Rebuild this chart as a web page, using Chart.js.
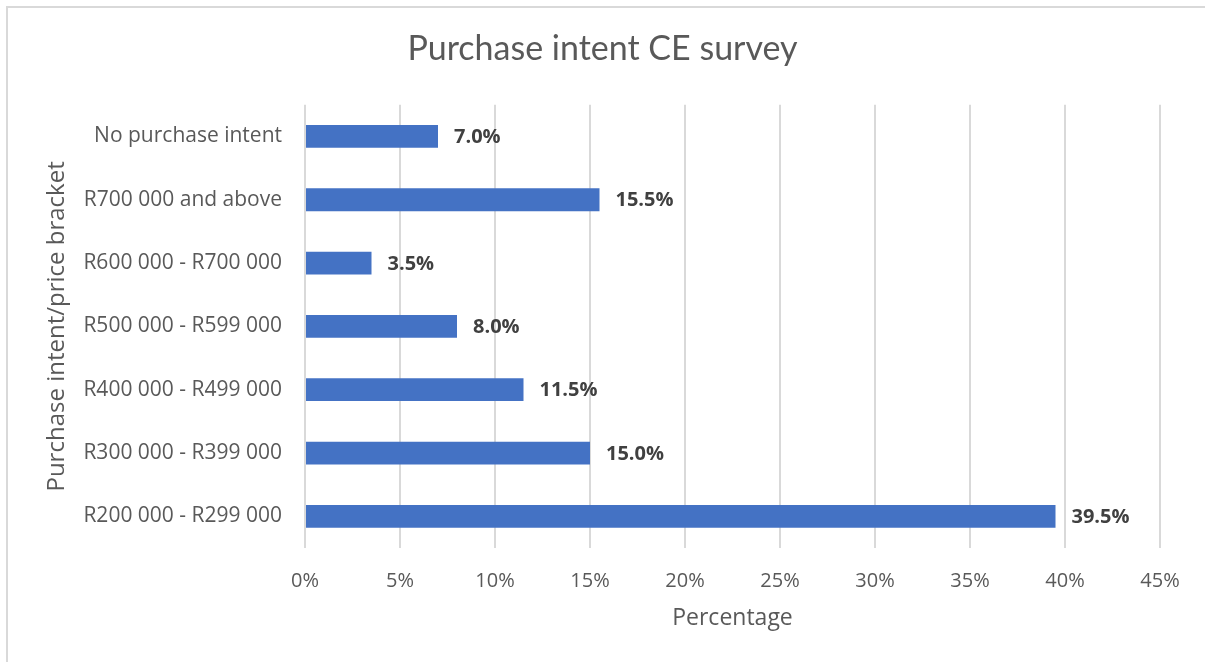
<!DOCTYPE html>
<html>
<head>
<meta charset="utf-8">
<title>Purchase intent CE survey</title>
<script src="https://cdn.jsdelivr.net/npm/chart.js@4/dist/chart.umd.min.js"></script>
<style>
    html, body { margin: 0; padding: 0; background: #fff; }
    #wrap { position: relative; width: 1205px; height: 662px; }
</style>
</head>
<body>
<div id="wrap"><canvas id="intentChart"></canvas></div>
<script>
const brackets = [
    'No purchase intent',
    'R700 000 and above',
    'R600 000 - R700 000',
    'R500 000 - R599 000',
    'R400 000 - R499 000',
    'R300 000 - R399 000',
    'R200 000 - R299 000'
];
const shares = [7.0, 15.5, 3.5, 8.0, 11.5, 15.0, 39.5];
const xTicks = [0, 5, 10, 15, 20, 25, 30, 35, 40, 45];

const FONT = '"Open Sans", sans-serif';
const TITLE_FONT = 'Lato, sans-serif';
const TEXT = '#595959';
const SIDE_PAD = 45;

// frame lines along the top and left edge of the chart box
const framePlugin = {
    id: 'frame',
    beforeDraw(chart) {
        const ctx = chart.ctx;
        ctx.save();
        ctx.strokeStyle = '#d9d9d9';
        ctx.lineWidth = 2;
        ctx.beginPath();
        ctx.moveTo(6, 7);
        ctx.lineTo(chart.width, 7);
        ctx.moveTo(7, 6);
        ctx.lineTo(7, chart.height);
        ctx.stroke();
        ctx.restore();
    }
};

// value labels at the end of each bar
const valueLabels = {
    id: 'valueLabels',
    afterDatasetsDraw(chart) {
        const ctx = chart.ctx;
        const meta = chart.getDatasetMeta(0);
        ctx.save();
        ctx.font = 'bold 20px ' + FONT;
        ctx.fillStyle = '#404040';
        ctx.textAlign = 'left';
        ctx.textBaseline = 'middle';
        meta.data.forEach((bar, i) => {
            ctx.fillText(shares[i].toFixed(1) + '%', bar.x + 16, bar.y + 1);
        });
        ctx.restore();
    }
};

new Chart(document.getElementById('intentChart'), {
    type: 'bar',
    data: {
        labels: brackets,
        datasets: [{
            data: shares,
            backgroundColor: '#4472C4',
            borderWidth: 0,
            categoryPercentage: 1,
            barPercentage: 0.36
        }]
    },
    options: {
        indexAxis: 'y',
        responsive: true,
        maintainAspectRatio: false,
        animation: false,
        layout: { padding: { left: SIDE_PAD, right: SIDE_PAD, top: 0, bottom: 0 } },
        plugins: {
            legend: { display: false },
            tooltip: { enabled: false },
            title: {
                display: true,
                text: 'Purchase intent CE survey',
                color: TEXT,
                font: { family: TITLE_FONT, size: 34, weight: 'normal', lineHeight: 1.2 },
                padding: { top: 29, bottom: 35 }
            }
        },
        scales: {
            x: {
                min: 0,
                max: 45,
                afterBuildTicks(scale) {
                    scale.ticks = xTicks.map(v => ({ value: v }));
                },
                afterFit(scale) { scale.height = 114; },
                grid: { color: '#d9d9d9', lineWidth: 2, drawTicks: false },
                border: { display: false },
                ticks: {
                    color: TEXT,
                    padding: 21,
                    font: { family: FONT, size: 20 },
                    callback: v => v + '%'
                },
                title: {
                    display: true,
                    text: 'Percentage',
                    color: TEXT,
                    font: { family: FONT, size: 23 },
                    padding: { top: 0, bottom: 30 }
                }
            },
            y: {
                afterFit(scale) { scale.width = 305 - SIDE_PAD; },
                grid: { display: false, drawTicks: false },
                border: { display: false },
                ticks: {
                    color: TEXT,
                    padding: 23,
                    font: { family: FONT, size: 21 }
                },
                title: {
                    display: true,
                    text: 'Purchase intent/price bracket',
                    color: TEXT,
                    font: { family: FONT, size: 24 },
                    padding: { top: -2, bottom: 0 }
                }
            }
        }
    },
    plugins: [framePlugin, valueLabels]
});
</script>
</body>
</html>
